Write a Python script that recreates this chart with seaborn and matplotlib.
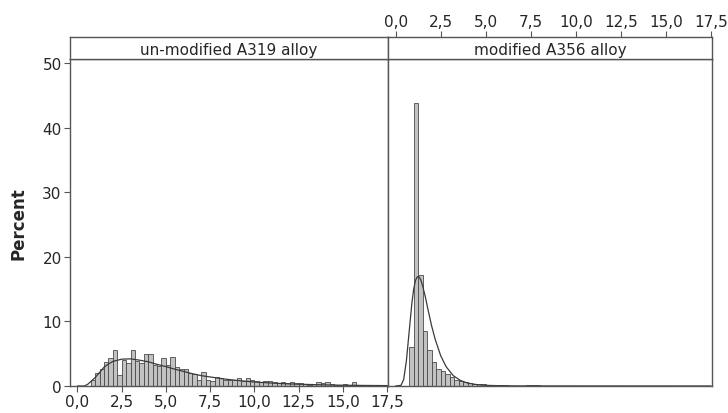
import numpy as np
import pandas as pd
import matplotlib
matplotlib.use("Agg")
import matplotlib.pyplot as plt
import seaborn as sns

# ---- data -------------------------------------------------------------
panel_titles = ["un-modified A319 alloy", "modified A356 alloy"]
bin_width = 0.25

# A319 (un-modified): percent of particles per 0.25 bin, first bin starts at 0.75
a319_first_bin = 0.75
a319_percent = [
    1.0, 2.0, 2.6, 3.7, 4.3, 5.5, 1.7, 4.0, 3.5, 5.5, 3.9, 3.5, 4.9, 4.9,
    3.2, 3.1, 4.3, 3.3, 4.5, 3.0, 2.7, 2.6, 2.0, 1.9, 1.0, 2.2, 1.0, 0.7,
    1.4, 1.2, 1.0, 1.0, 0.9, 1.3, 0.7, 1.2, 0.9, 0.7, 0.6, 0.8, 0.7, 0.6,
    0.5, 0.6, 0.5, 0.6, 0.5, 0.4, 0.3, 0.2, 0.3, 0.6, 0.5, 0.6, 0.3, 0.2,
    0.2, 0.3, 0.1, 0.6, 0.2, 0.1, 0.2, 0.1, 0.2, 0.1, 0.1,
]

# A356 (modified): percent per 0.25 bin, first bin starts at 0.75
a356_first_bin = 0.75
a356_percent = [
    6.0, 43.8, 17.2, 8.5, 5.6, 3.7, 2.7, 2.3, 1.9, 1.4, 1.0, 0.8, 0.6,
    0.4, 0.35, 0.3, 0.25, 0.2, 0.15, 0.1, 0.1, 0.08, 0.05, 0.05, 0.05,
    0.05, 0.1, 0.1, 0.1, 0.05,
]

# fitted distribution curves (percent per bin)
a319_fit_x = [0.0, 0.4, 0.6, 0.8, 1.0, 1.25, 1.5, 1.75, 2.0, 2.5, 3.0, 3.5,
              4.0, 4.5, 5.0, 5.5, 6.0, 6.5, 7.0, 7.5, 8.0, 8.5, 9.0, 9.5,
              10.0, 11.0, 12.0, 13.0, 14.0, 15.0, 16.0, 17.5]
a319_fit_pct = [0.0, 0.0, 0.3, 0.8, 1.3, 2.1, 2.9, 3.4, 3.8, 4.15, 4.2, 4.0,
                3.75, 3.35, 3.0, 2.6, 2.25, 1.9, 1.6, 1.4, 1.2, 1.02, 0.87,
                0.74, 0.62, 0.45, 0.32, 0.24, 0.17, 0.12, 0.09, 0.06]

a356_fit_x = [0.0, 0.3, 0.45, 0.6, 0.75, 0.9, 1.0, 1.1, 1.2, 1.3, 1.4, 1.5,
              1.65, 1.8, 2.0, 2.2, 2.5, 2.8, 3.2, 3.6, 4.0, 4.5, 5.0, 6.0,
              7.0, 17.5]
a356_fit_pct = [0.0, 0.1, 1.0, 3.9, 8.3, 12.7, 14.9, 16.3, 16.9, 16.9, 16.4,
                15.5, 13.8, 11.8, 9.3, 7.2, 4.7, 3.0, 1.6, 0.85, 0.45, 0.22,
                0.1, 0.03, 0.01, 0.0]

x_ticks = [0.0, 2.5, 5.0, 7.5, 10.0, 12.5, 15.0, 17.5]
x_tick_labels = ["0,0", "2,5", "5,0", "7,5", "10,0", "12,5", "15,0", "17,5"]
y_ticks = [0, 10, 20, 30, 40, 50]
y_label = "Percent"

# ---- style ------------------------------------------------------------
sns.set_style("white")
plt.rcParams["font.family"] = ["DejaVu Sans"]
frame_color = "#555555"
text_color = "#262626"
bar_face = "#c2c2c2"
bar_edge = "#4a4a4a"
curve_color = "#3a3a3a"
fs = 11

W, H = 728, 414
fig = plt.figure(figsize=(W / 100, H / 100), dpi=100)


def rect(x0, y0, x1, y1):
    return [x0 / W, 1 - y1 / H, (x1 - x0) / W, (y1 - y0) / H]


ax_l = fig.add_axes(rect(70, 60, 388, 387))
ax_r = fig.add_axes(rect(388, 60, 712, 387))
st_l = fig.add_axes(rect(70, 38, 388, 60))
st_r = fig.add_axes(rect(388, 38, 712, 60))

xlim = (-0.42, 17.55)
ylim = (0, 50.6)


def draw_panel(ax, first_bin, pct, fit_x, fit_y):
    starts = first_bin + bin_width * np.arange(len(pct))
    df = pd.DataFrame({"size": starts + bin_width / 2, "pct": pct})
    last_edge = first_bin + bin_width * len(pct)
    sns.histplot(data=df, x="size", weights="pct", binwidth=bin_width,
                 binrange=(first_bin, last_edge), stat="count",
                 color=bar_face, edgecolor=bar_edge, linewidth=0.6,
                 alpha=1.0, ax=ax)
    fit = pd.DataFrame({"x": fit_x, "y": fit_y})
    sns.lineplot(data=fit, x="x", y="y", color=curve_color, linewidth=0.9,
                 ax=ax)
    ax.set_xlim(*xlim)
    ax.set_ylim(*ylim)
    ax.set_xlabel("")
    ax.set_ylabel("")
    for s in ax.spines.values():
        s.set_color(frame_color)
        s.set_linewidth(1.0)


draw_panel(ax_l, a319_first_bin, a319_percent, a319_fit_x, a319_fit_pct)
draw_panel(ax_r, a356_first_bin, a356_percent, a356_fit_x, a356_fit_pct)

# left panel: x ticks at the bottom, y ticks at the left
ax_l.set_xticks(x_ticks)
ax_l.set_xticklabels(x_tick_labels, fontsize=fs, color=text_color)
ax_l.set_yticks(y_ticks)
ax_l.set_yticklabels([str(v) for v in y_ticks], fontsize=fs, color=text_color)
ax_l.tick_params(axis="both", direction="out", length=4, width=0.8,
                 color=frame_color, pad=2, bottom=True, left=True)
ax_l.set_ylabel(y_label, fontsize=12, fontweight="bold", color=text_color,
                labelpad=11)

# right panel: no ticks on the plot itself
ax_r.set_xticks([])
ax_r.set_yticks([])

# strips with panel titles
for st, title in zip([st_l, st_r], panel_titles):
    st.set_xlim(*xlim)
    st.set_ylim(0, 1)
    st.set_yticks([])
    st.set_facecolor("white")
    for s in st.spines.values():
        s.set_color(frame_color)
        s.set_linewidth(1.0)
    st.text(0.5, 0.45, title, transform=st.transAxes, ha="center",
            va="center", fontsize=fs, color=text_color)

st_l.set_xticks([])
# right strip carries the x axis on top
st_r.set_xticks(x_ticks)
st_r.set_xticklabels(x_tick_labels, fontsize=fs, color=text_color)
st_r.xaxis.tick_top()
st_r.tick_params(axis="x", direction="out", length=4, width=0.8,
                 color=frame_color, pad=2, top=True, bottom=False)

fig.savefig("out.png", dpi=100)
